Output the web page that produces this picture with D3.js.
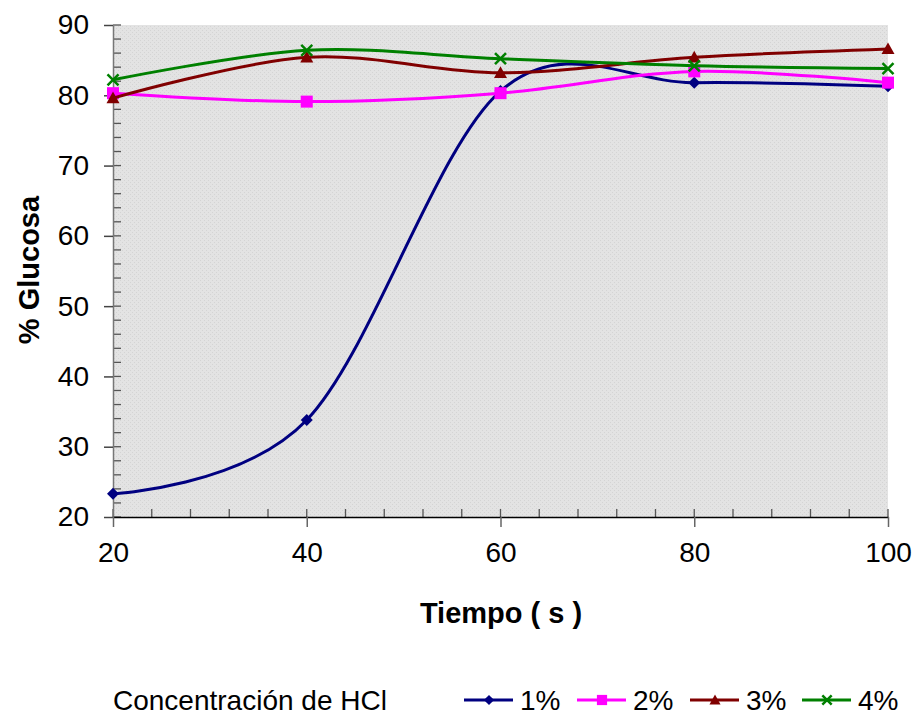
<!DOCTYPE html>
<html><head><meta charset="utf-8">
<script src="https://cdn.jsdelivr.net/npm/d3@7"></script>
<style>body{margin:0;background:#fff}svg{display:block;font-family:"Liberation Sans",Arial,sans-serif}</style>
</head><body>
<svg id="c" width="917" height="715"></svg>
<script>
const times = [20, 40, 60, 80, 100];
const s1 = [23.3, 33.8, 80.6, 81.8, 81.3];
const s2 = [80.3, 79.1, 80.3, 83.4, 81.8];
const s3 = [79.6, 85.4, 83.2, 85.4, 86.6];
const s4 = [82.2, 86.4, 85.2, 84.2, 83.8];
const seriesNames = ["1%", "2%", "3%", "4%"];
const seriesColors = ["#000080", "#FF00FF", "#800000", "#008000"];
const seriesMarkers = ["diamond", "square", "triangle", "x"];
const xTicks = [20, 40, 60, 80, 100];
const yTicks = [20, 30, 40, 50, 60, 70, 80, 90];
const xTitle = "Tiempo ( s )";
const yTitle = "% Glucosa";
const legendTitle = "Concentración de HCl";

const svg = d3.select("#c");
const L = 113, R = 888, T = 25, B = 517;
const x = d3.scaleLinear().domain([20, 100]).range([L, R]);
const y = d3.scaleLinear().domain([20, 90]).range([B, T]);

const defs = svg.append("defs");
const pat = defs.append("pattern").attr("id", "dots").attr("width", 4).attr("height", 4).attr("patternUnits", "userSpaceOnUse");
pat.append("rect").attr("width", 4).attr("height", 4).attr("fill", "#e3e3e3");
pat.append("rect").attr("x", 0).attr("y", 0).attr("width", 1).attr("height", 1).attr("fill", "#d4d4d4");
pat.append("rect").attr("x", 2).attr("y", 2).attr("width", 1).attr("height", 1).attr("fill", "#d4d4d4");

svg.append("rect").attr("x", L).attr("y", T).attr("width", R - L).attr("height", B - T).attr("fill", "url(#dots)");

// minor ticks
const yMinor = d3.range(20, 90.01, 2);
svg.append("g").selectAll("line").data(yMinor).join("line")
  .attr("x1", L).attr("x2", L + 8).attr("y1", d => y(d)).attr("y2", d => y(d))
  .attr("stroke", "#555").attr("stroke-width", 1.3);
const xMinor = d3.range(20, 100.01, 4);
svg.append("g").selectAll("line").data(xMinor).join("line")
  .attr("x1", d => x(d)).attr("x2", d => x(d)).attr("y1", B).attr("y2", B - 8)
  .attr("stroke", "#555").attr("stroke-width", 1.3);

// axes
const yAxis = d3.axisLeft(y).tickValues(yTicks).tickSize(9).tickPadding(15).tickSizeOuter(0);
const gy = svg.append("g").attr("transform", `translate(${L},0)`).call(yAxis);
gy.select(".domain").attr("stroke", "#777").attr("stroke-width", 1.5);
gy.selectAll(".tick line").attr("stroke", "#444").attr("stroke-width", 1.5);
gy.selectAll("text").attr("font-size", 28).attr("fill", "#000").attr("font-family", "Liberation Sans, Arial, sans-serif");

const xAxis = d3.axisBottom(x).tickValues(xTicks).tickSize(10).tickPadding(15).tickSizeOuter(0);
const gx = svg.append("g").attr("transform", `translate(0,${B})`).call(xAxis);
gx.select(".domain").attr("stroke", "#000").attr("stroke-width", 1.5);
gx.selectAll(".tick line").attr("stroke", "#666").attr("stroke-width", 1.5);
gx.selectAll("text").attr("font-size", 28).attr("fill", "#000").attr("font-family", "Liberation Sans, Arial, sans-serif");

// titles
svg.append("text").attr("x", 501).attr("y", 623).attr("text-anchor", "middle")
  .attr("font-size", 29).attr("font-weight", "bold").text(xTitle);
svg.append("text").attr("transform", "translate(39,270) rotate(-90)").attr("text-anchor", "middle")
  .attr("font-size", 29).attr("font-weight", "bold").text(yTitle);

// marker drawing
function marker(g, type, color, cx, cy, sc) {
  sc = sc || 1;
  if (type === "diamond") {
    const r = 6 * sc;
    g.append("path").attr("d", `M${cx},${cy - r}L${cx + r},${cy}L${cx},${cy + r}L${cx - r},${cy}Z`).attr("fill", color);
  } else if (type === "square") {
    const r = 6 * sc;
    g.append("rect").attr("x", cx - r).attr("y", cy - r).attr("width", 2 * r).attr("height", 2 * r).attr("fill", color);
  } else if (type === "triangle") {
    const r = 6.5 * sc;
    g.append("path").attr("d", `M${cx},${cy - r}L${cx + r},${cy + r * 0.8}L${cx - r},${cy + r * 0.8}Z`).attr("fill", color);
  } else {
    const r = 5.5 * sc;
    g.append("path").attr("d", `M${cx - r},${cy - r}L${cx + r},${cy + r}M${cx - r},${cy + r}L${cx + r},${cy - r}`)
      .attr("stroke", color).attr("stroke-width", 2.5).attr("fill", "none");
  }
}

const allSeries = [s1, s2, s3, s4];
const line = d3.line().x((d, i) => x(times[i])).y(d => y(d)).curve(d3.curveCatmullRom.alpha(0));

allSeries.forEach((s, k) => {
  const g = svg.append("g");
  g.append("path").datum(s).attr("d", line).attr("fill", "none")
    .attr("stroke", seriesColors[k]).attr("stroke-width", 3);
  s.forEach((v, i) => marker(g, seriesMarkers[k], seriesColors[k], x(times[i]), y(v)));
});

// legend
const ly = 700;
svg.append("text").attr("x", 113).attr("y", ly + 10).attr("font-size", 28).text(legendTitle);
const lx = [464, 577, 690, 802];
seriesNames.forEach((n, k) => {
  const g = svg.append("g");
  g.append("line").attr("x1", lx[k]).attr("x2", lx[k] + 49).attr("y1", ly).attr("y2", ly)
    .attr("stroke", seriesColors[k]).attr("stroke-width", 3);
  marker(g, seriesMarkers[k], seriesColors[k], lx[k] + 25, ly, 0.85);
  g.append("text").attr("x", lx[k] + 56).attr("y", ly + 10).attr("font-size", 28).text(n);
});
</script>
</body></html>
